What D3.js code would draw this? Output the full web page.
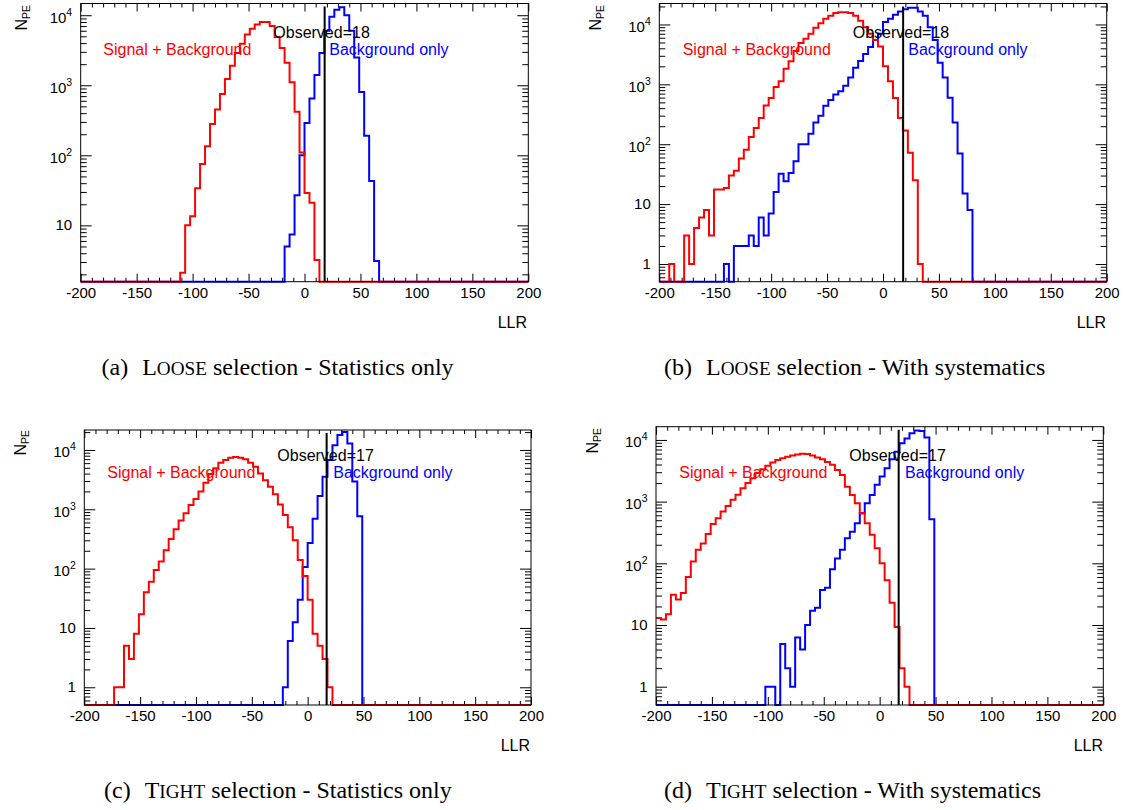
<!DOCTYPE html>
<html><head><meta charset="utf-8">
<script src="https://cdn.jsdelivr.net/npm/d3@7"></script>
<style>body{margin:0;background:#fff} svg{display:block}</style>
</head><body>
<svg id="chart" width="1127" height="810"></svg>
<script>
// ---------------- DATA ----------------
const llrRange = [-200, 200];
const nBins = 90;
const xTickLabels = [-200, -150, -100, -50, 0, 50, 100, 150, 200];
const yDecades = [1, 10, 100, 1000, 10000];

// (a) LOOSE - statistics only
const looseStatSBStart = 20;
const looseStatSB = [2.1, 10, 13.5, 34, 75, 135, 280, 450, 750, 1230, 1900, 2900, 3900, 5300, 6400, 7400, 8000, 8000, 7000, 4900, 3400, 2100, 1100, 420, 110, 29, 21, 3.2];
const looseStatBStart = 41;
const looseStatB = [5, 7.4, 27, 100, 290, 650, 1400, 2900, 6000, 9500, 12000, 13000, 10000, 6000, 2500, 800, 190, 43, 3.1];
const looseObserved = 18;

// (b) LOOSE - with systematics
const looseSystSBStart = 2;
const looseSystSB = [1, 0, 0, 3, 1, 4, 6, 8, 3, 17.5, 17.5, 18.6, 30, 36, 58, 81, 132, 187, 275, 443, 590, 905, 1130, 1820, 2440, 3600, 4900, 5800, 7000, 8800, 10500, 12500, 14000, 15500, 16000, 16000, 15500, 14000, 11500, 9000, 7000, 5500, 4300, 2000, 1130, 590, 275, 170, 72, 25, 1];
const looseSystBStart = 13;
const looseSystB = [1, 0, 2, 2, 2, 3, 2, 6, 3, 7, 16, 32, 24, 33, 52, 100, 100, 150, 230, 300, 440, 550, 680, 770, 950, 1300, 1900, 2450, 3200, 4200, 5500, 7000, 11000, 12500, 14500, 16500, 18000, 19000, 19000, 16500, 14000, 9000, 5500, 2300, 1300, 600, 230, 70, 15, 8];

// (c) TIGHT - statistics only
const tightStatSBStart = 6;
const tightStatSB = [1, 1, 5, 3, 8, 17, 40, 60, 95, 132, 205, 315, 460, 650, 860, 1180, 1490, 2000, 2800, 3950, 4900, 6100, 6800, 7400, 7600, 7400, 6950, 6100, 5200, 4000, 3100, 2400, 1800, 1200, 800, 500, 300, 140, 75, 30, 8, 5, 3, 1];
const tightStatBStart = 40;
const tightStatB = [1, 6, 12.5, 30, 107, 270, 690, 1670, 3550, 6800, 12000, 17800, 20000, 12900, 2950, 760];
const tightObserved = 17;

// (d) TIGHT - with systematics
const tightSystSBStart = 0;
const tightSystSB = [13, 12.3, 15, 31, 26, 33, 60, 107, 166, 210, 300, 435, 540, 690, 850, 1070, 1290, 1650, 2000, 2400, 2900, 3350, 3800, 4300, 4750, 5050, 5350, 5600, 5800, 6000, 5900, 5600, 5200, 4850, 4400, 3950, 3260, 2700, 1750, 1280, 940, 650, 445, 290, 175, 100, 53, 23, 9.3, 2, 1];
const tightSystBStart = 22;
const tightSystB = [1, 1, 0, 4.9, 2, 1, 6.3, 4, 10, 17, 19, 37, 40, 80, 120, 166, 255, 325, 445, 650, 940, 1280, 1870, 2550, 3470, 4860, 6460, 8830, 10600, 12800, 14200, 14000, 11000, 520];

const captionLetters = ["(a)", "(b)", "(c)", "(d)"];
const captionSel = [["L", "OOSE"], ["L", "OOSE"], ["T", "IGHT"], ["T", "IGHT"]];
const captionRest = [" selection - Statistics only", " selection - With systematics", " selection - Statistics only", " selection - With systematics"];
const labelSB = "Signal + Background";
const labelB = "Background only";

// ---------------- LAYOUT ----------------
const panels = [
  {x0: 80.7, x1: 528.3, y0: 3.5, y1: 281.7, yDom: [1.57, 14700], sbS: looseStatSBStart, sb: looseStatSB, bS: looseStatBStart, b: looseStatB, obs: looseObserved,
   npe: [27, 5], llr: [527, 328], cap: [101.5, 375], tSB: [103.3, 55], tObs: [273.3, 38], tB: [329.3, 55]},
  {x0: 659.3, x1: 1106.7, y0: 3.5, y1: 281.7, yDom: [0.506, 22400], sbS: looseSystSBStart, sb: looseSystSB, bS: looseSystBStart, b: looseSystB, obs: looseObserved,
   npe: [601, 5], llr: [1106, 328], cap: [664, 375], tSB: [682.7, 55], tObs: [852.7, 37.5], tB: [908.3, 55]},
  {x0: 84.3, x1: 531, y0: 430, y1: 705, yDom: [0.503, 21700], sbS: tightStatSBStart, sb: tightStatSB, bS: tightStatBStart, b: tightStatB, obs: tightObserved,
   npe: [26, 430], llr: [530, 751], cap: [104, 798], tSB: [107.3, 478.3], tObs: [277.3, 460.7], tB: [333.3, 478.3]},
  {x0: 656, x1: 1103.3, y0: 426.7, y1: 705, yDom: [0.505, 16400], sbS: tightSystSBStart, sb: tightSystSB, bS: tightSystBStart, b: tightSystB, obs: tightObserved,
   npe: [598, 428], llr: [1103, 751], cap: [664, 798], tSB: [679.3, 478.3], tObs: [849.3, 460.7], tB: [905, 478.3]}
];

const svg = d3.select("#chart");
const sans = "'Liberation Sans', Arial, Helvetica, sans-serif";
const serif = "'Liberation Serif', 'Times New Roman', serif";
const binW = (llrRange[1] - llrRange[0]) / nBins;

function fullBins(start, counts) {
  const v = new Array(nBins).fill(0);
  counts.forEach((c, i) => { v[start + i] = c; });
  return v;
}

function histPath(vals, x, y) {
  const bottom = y.range()[0];
  let d = "";
  vals.forEach((v, i) => {
    const xa = x(llrRange[0] + i * binW), xb = x(llrRange[0] + (i + 1) * binW);
    const yy = v > 0 ? y(v) : bottom;
    d += (i === 0 ? "M" : "L") + xa + "," + yy + "L" + xb + "," + yy;
  });
  return d;
}

panels.forEach((p, pi) => {
  const x = d3.scaleLinear().domain(llrRange).range([p.x0, p.x1]);
  const y = d3.scaleLog().domain(p.yDom).range([p.y1, p.y0]).clamp(true);
  const g = svg.append("g");

  const xMinor = d3.range(llrRange[0], llrRange[1] + 1, 10).filter(v => v % 50 !== 0);
  const yMajor = yDecades.filter(v => v >= p.yDom[0] && v <= p.yDom[1]);
  const yMinor = [];
  [0.1, 1, 10, 100, 1000, 10000].forEach(dec => {
    for (let m = 2; m <= 9; m++) { const v = dec * m; if (v >= p.yDom[0] && v <= p.yDom[1]) yMinor.push(v); }
  });

  const axStyle = sel => { sel.select(".domain").remove(); sel.selectAll("line").attr("stroke", "#000").attr("stroke-width", 1); };

  g.append("g").attr("transform", `translate(0,${p.y1})`)
    .call(d3.axisBottom(x).tickValues(xTickLabels).tickSizeInner(-8).tickSizeOuter(0).tickPadding(5.5).tickFormat(d => d))
    .call(axStyle)
    .selectAll("text").attr("font-family", sans).attr("font-size", 15).attr("fill", "#000");
  g.append("g").attr("transform", `translate(0,${p.y1})`)
    .call(d3.axisBottom(x).tickValues(xMinor).tickSizeInner(-4).tickSizeOuter(0).tickFormat(""))
    .call(axStyle);
  g.append("g").attr("transform", `translate(0,${p.y0})`)
    .call(d3.axisTop(x).tickValues(xTickLabels).tickSizeInner(-8).tickSizeOuter(0).tickFormat(""))
    .call(axStyle);
  g.append("g").attr("transform", `translate(0,${p.y0})`)
    .call(d3.axisTop(x).tickValues(xMinor).tickSizeInner(-4).tickSizeOuter(0).tickFormat(""))
    .call(axStyle);
  [[d3.axisLeft, p.x0], [d3.axisRight, p.x1]].forEach(([ax, pos]) => {
    g.append("g").attr("transform", `translate(${pos},0)`)
      .call(ax(y).tickValues(yMajor).tickSizeInner(-11).tickSizeOuter(0).tickFormat(""))
      .call(axStyle);
    g.append("g").attr("transform", `translate(${pos},0)`)
      .call(ax(y).tickValues(yMinor).tickSizeInner(-6).tickSizeOuter(0).tickFormat(""))
      .call(axStyle);
  });

  yMajor.forEach(v => {
    const e = Math.round(Math.log10(v));
    const t = g.append("text").attr("x", p.x0 - 8.5).attr("text-anchor", "end")
      .attr("font-family", sans).attr("font-size", 15).attr("fill", "#000");
    if (e <= 1) {
      t.attr("y", y(v) + 5).text(v === 1 ? "1" : "10");
    } else {
      t.attr("y", y(v) + 7.5).text("10");
      t.append("tspan").attr("dy", -7).attr("font-size", 10.5).text(e);
    }
  });

  g.append("path").attr("d", histPath(fullBins(p.bS, p.b), x, y))
    .attr("fill", "none").attr("stroke", "#0000ff").attr("stroke-width", 2);
  g.append("path").attr("d", histPath(fullBins(p.sbS, p.sb), x, y))
    .attr("fill", "none").attr("stroke", "#ff0000").attr("stroke-width", 2);

  g.append("line").attr("x1", x(p.obs)).attr("x2", x(p.obs)).attr("y1", p.y0 + 3).attr("y2", p.y1)
    .attr("stroke", "#000").attr("stroke-width", 2);

  g.append("rect").attr("x", p.x0).attr("y", p.y0).attr("width", p.x1 - p.x0).attr("height", p.y1 - p.y0)
    .attr("fill", "none").attr("stroke", "#000").attr("stroke-width", 1);

  g.append("text").attr("x", p.tSB[0]).attr("y", p.tSB[1]).attr("font-family", sans).attr("font-size", 16).attr("fill", "#ff0000").text(labelSB);
  g.append("text").attr("x", p.tB[0]).attr("y", p.tB[1]).attr("font-family", sans).attr("font-size", 16).attr("fill", "#0000ff").text(labelB);
  g.append("text").attr("x", p.tObs[0]).attr("y", p.tObs[1]).attr("font-family", sans).attr("font-size", 16).attr("fill", "#000").text("Observed=" + p.obs);

  const npe = g.append("text").attr("transform", `translate(${p.npe[0]},${p.npe[1]}) rotate(-90)`)
    .attr("text-anchor", "end").attr("font-family", sans).attr("font-size", 16).attr("fill", "#000").text("N");
  npe.append("tspan").attr("dy", 3).attr("font-size", 10.5).text("PE");
  g.append("text").attr("x", p.llr[0]).attr("y", p.llr[1]).attr("text-anchor", "end")
    .attr("font-family", sans).attr("font-size", 16).attr("fill", "#000").text("LLR");

  const cap = g.append("text").attr("x", p.cap[0]).attr("y", p.cap[1])
    .attr("font-family", serif).attr("font-size", 24).attr("fill", "#000");
  cap.append("tspan").text(captionLetters[pi]);
  cap.append("tspan").attr("dx", 14).text(captionSel[pi][0]);
  cap.append("tspan").attr("font-size", 19.2).text(captionSel[pi][1]);
  cap.append("tspan").text(captionRest[pi]);
});
</script>
</body></html>
